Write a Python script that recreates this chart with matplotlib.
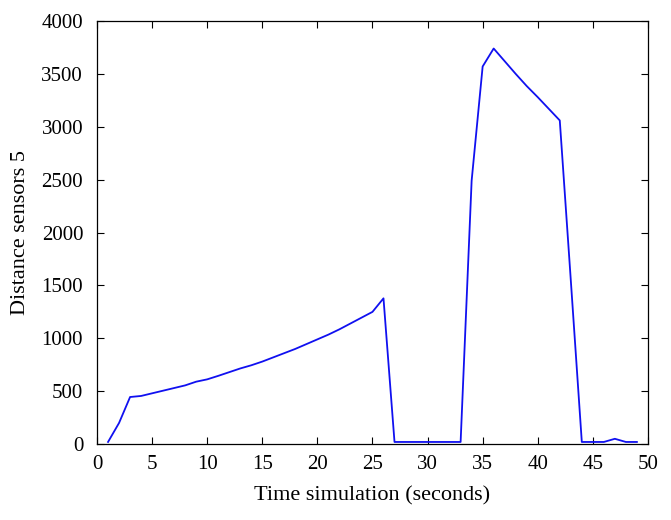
import matplotlib
matplotlib.use("Agg")
import matplotlib.pyplot as plt

# ── Data ──────────────────────────────────────────────────────────────────────
time_s = list(range(1, 50))
distance = [
    20, 200, 445, 455, 480, 505, 530, 555, 590, 612,
    645, 680, 715, 745, 780, 820, 860, 900, 945, 990,
    1035, 1085, 1140, 1195, 1250, 1378, 20, 20, 20, 20,
    20, 20, 20, 2490, 3570, 3740, 3620, 3500, 3385, 3280,
    3170, 3060, 1550, 20, 20, 20, 50, 20, 20,
]
x_ticks = [0, 5, 10, 15, 20, 25, 30, 35, 40, 45, 50]
y_ticks = [0, 500, 1000, 1500, 2000, 2500, 3000, 3500, 4000]

plt.rcParams["font.family"] = ["Liberation Serif", "DejaVu Serif"]

fig = plt.figure(figsize=(6.71, 5.20), dpi=100)
ax = fig.add_axes([0.1446, 0.146, 0.821, 0.8136])

ax.plot(time_s, distance, color="#1010f0", lw=1.3)

ax.set_xlim(0, 50)
ax.set_ylim(0, 4000)
ax.set_xticks(x_ticks)
ax.set_yticks(y_ticks)
ax.tick_params(direction="in", top=True, right=True, labelsize=15, length=5, width=0.8)
ax.tick_params(axis="y", pad=10)
ax.tick_params(axis="x", pad=8)
for s in ax.spines.values():
    s.set_linewidth(0.9)

ax.set_xlabel("Time simulation (seconds)", fontsize=16, labelpad=9)
ax.set_ylabel("Distance sensors 5", fontsize=16, labelpad=8)

fig.savefig("out.png", dpi=100)
